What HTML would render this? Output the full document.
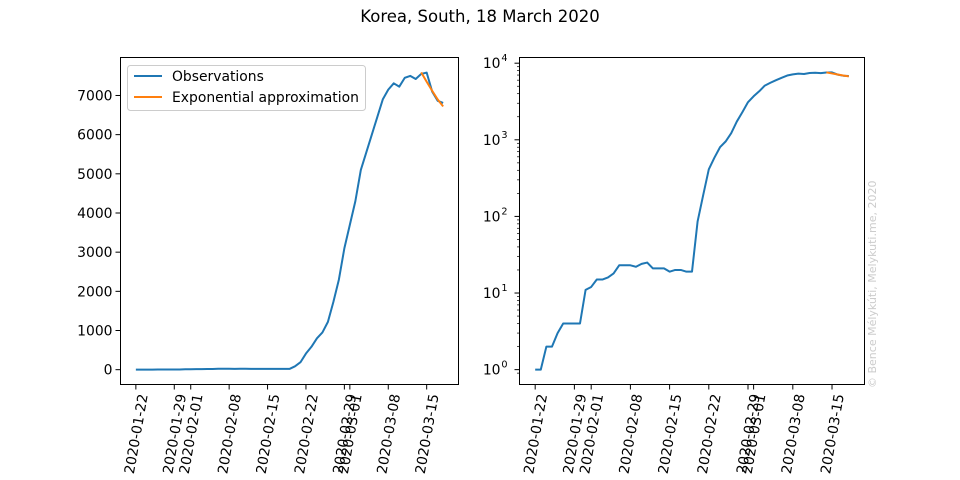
<!DOCTYPE html>
<html><head><meta charset="utf-8"><style>body{margin:0;background:#fff}svg{display:block;font-family:"DejaVu Sans","Liberation Sans",sans-serif}</style></head>
<body>
<svg id="c" width="960" height="480" viewBox="0 0 960 480">
<rect width="960" height="480" fill="#fff"/>
<text x="480" y="22" text-anchor="middle" font-size="16.5">Korea, South, 18 March 2020</text>
<text transform="translate(876,388) rotate(-90)" font-size="11" fill="#ccc">© Bence Mélykúti, Melykuti.me, 2020</text>
</svg>
<script>
const dayLabels=["2020-01-22","2020-01-29","2020-02-01","2020-02-08","2020-02-15","2020-02-22","2020-02-29","2020-03-01","2020-03-08","2020-03-15"];
const tickDays=[0,7,10,17,24,31,38,39,46,53];
const observations=[1,1,2,2,3,4,4,4,4,11,12,15,15,16,18,23,23,23,22,24,25,21,21,21,19,20,20,19,19,86,190,412,584,800,950,1220,1730,2300,3100,3700,4300,5100,5550,6000,6450,6900,7150,7310,7225,7450,7500,7420,7550,7584,7100,6865,6810];
const approxDays=[52,53,54,55,56];
const approxValues=[7590,7350,7120,6900,6720];
const leftTicks=[0,1000,2000,3000,4000,5000,6000,7000];
const NS='http://www.w3.org/2000/svg';
const svg=document.getElementById('c');
function el(t,a,p){const e=document.createElementNS(NS,t);for(const k in a)e.setAttribute(k,a[k]);(p||svg).appendChild(e);return e;}
const nd=observations.length-1;
function makeAxis(x0,x1,y0,y1,log,name){
  const g=el('g',{});
  
  
  const m=(x1-x0)/(nd*1.1);
  const X=d=>x0+m*(0.05*nd+d);
  const all=observations.concat(approxValues);
  let lo,hi,f;
  if(log){f=v=>Math.log10(v);}else{f=v=>v;}
  lo=Math.min(...all.map(f));hi=Math.max(...all.map(f));
  const sp=hi-lo;lo-=sp*0.05;hi+=sp*0.05;
  const Y=v=>y1-(f(v)-lo)/(hi-lo)*(y1-y0);
  // x ticks
  tickDays.forEach((d,i)=>{
    const x=X(d);
    const t=el('line',{x1:x,x2:x,y1:y1,y2:y1+5,stroke:'#000','stroke-width':1},g);
    
    
    const tx=el('text',{transform:`translate(${x+1},434) rotate(-80)`,'text-anchor':'middle','dominant-baseline':'central','font-size':13.9},g);
    
    
    tx.textContent=dayLabels[i];
  });
  if(!log){
    leftTicks.forEach(v=>{
      const y=Y(v);
      el('line',{x1:x0-5,x2:x0,y1:y,y2:y,stroke:'#000'},g);
      const tx=el('text',{x:x0-8,y:y+5,'text-anchor':'end','font-size':13.9},g);
      
      
      tx.textContent=v;
    });
  } else {
    for(let e=0;e<=4;e++){
      const y=Y(Math.pow(10,e));
      el('line',{x1:x0-5,x2:x0,y1:y,y2:y,stroke:'#000'},g);
      const tx=el('text',{x:x0-19,y:y+5,'text-anchor':'end','font-size':13.9},g);
      
      
      tx.textContent='10';
      const sup=el('text',{x:x0-12,y:y-2,'text-anchor':'end','font-size':9.7},g);
      sup.textContent=e;
      for(let k=2;k<10;k++){const v=k*Math.pow(10,e);if(f(v)<hi&&f(v)>lo){const yy=Y(v);el('line',{x1:x0-2.5,x2:x0,y1:yy,y2:yy,stroke:'#000','stroke-width':0.7},g);}}
    }
    const yy=Y(0.9);el('line',{x1:x0-2.5,x2:x0,y1:yy,y2:yy,stroke:'#000','stroke-width':0.7},g);
  }
  const p1=el('polyline',{points:observations.map((v,i)=>X(i)+','+Y(v)).join(' '),fill:'none',stroke:'#1f77b4','stroke-width':2,'stroke-linejoin':'round'},g);
  
  
  const p2=el('polyline',{points:approxValues.map((v,i)=>X(approxDays[i])+','+Y(v)).join(' '),fill:'none',stroke:'#ff7f0e','stroke-width':2},g);
  
  
  el('rect',{x:x0,y:y0,width:x1-x0,height:y1-y0,fill:'none',stroke:'#000','stroke-width':1},g);
}
makeAxis(120.5,458.5,57.5,384.5,false,'linear-axes');
makeAxis(519.5,864.5,57.5,384.5,true,'log-axes');
// legend
const lg=el('g',{});


el('rect',{x:127.5,y:65.5,width:238,height:45,rx:3,fill:'#fff','fill-opacity':0.8,stroke:'#ccc'},lg);
el('line',{x1:134,x2:162,y1:76,y2:76,stroke:'#1f77b4','stroke-width':2},lg);
el('line',{x1:134,x2:162,y1:97,y2:97,stroke:'#ff7f0e','stroke-width':2},lg);
const l1=el('text',{x:172,y:81,'font-size':13.9},lg);l1.textContent='Observations';


const l2=el('text',{x:172,y:102,'font-size':13.9},lg);l2.textContent='Exponential approximation';


</script>
</body></html>
